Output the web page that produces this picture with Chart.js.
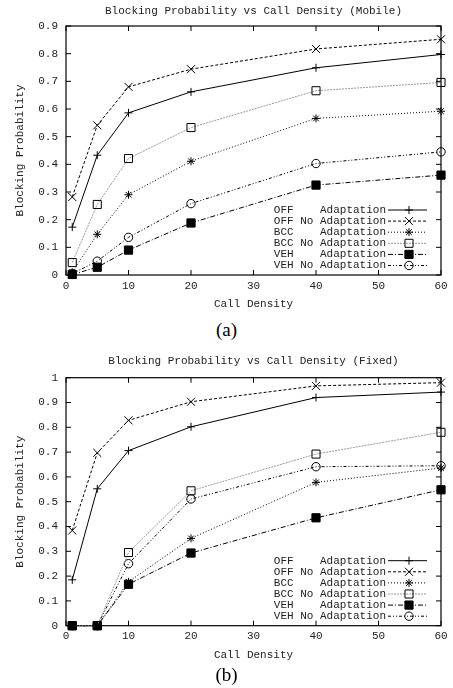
<!DOCTYPE html>
<html>
<head>
<meta charset="utf-8">
<script src="https://cdn.jsdelivr.net/npm/chart.js@4/dist/chart.umd.min.js"></script>
<style>
  body { margin: 0; background: #fff; width: 453px; height: 688px; position: relative; overflow: hidden; }
  .box { position: absolute; left: 0; width: 453px; height: 318px; }
  .cap { position: absolute; left: 0; width: 453px; text-align: center; line-height: 22px;
         font-family: "Liberation Serif", serif; font-size: 19px; color: #000; }
</style>
</head>
<body>
<div class="box" style="top:0"><canvas id="mobileChart" width="453" height="318"></canvas></div>
<div class="cap" style="top:319px">(a)</div>
<div class="box" style="top:350px"><canvas id="fixedChart" width="453" height="318"></canvas></div>
<div class="cap" style="top:664px">(b)</div>
<script>
"use strict";
// x positions (call density) shared by both plots
const callDensity = [1, 5, 10, 20, 40, 60];
const seriesLabels = ["OFF    Adaptation", "OFF No Adaptation", "BCC    Adaptation",
    "BCC No Adaptation", "VEH    Adaptation", "VEH No Adaptation"];
const xTicks = [0, 10, 20, 30, 40, 50, 60];
const mobileYTicks = [0, 0.1, 0.2, 0.3, 0.4, 0.5, 0.6, 0.7, 0.8, 0.9];
const fixedYTicks = [0, 0.1, 0.2, 0.3, 0.4, 0.5, 0.6, 0.7, 0.8, 0.9, 1];

// (a) Mobile
const mobileOffAdapt = [0.173, 0.433, 0.586, 0.662, 0.749, 0.797];
const mobileOffNoAdapt = [0.282, 0.541, 0.680, 0.744, 0.817, 0.852];
const mobileBccAdapt = [0.010, 0.147, 0.290, 0.411, 0.566, 0.592];
const mobileBccNoAdapt = [0.045, 0.255, 0.421, 0.533, 0.666, 0.696];
const mobileVehAdapt = [0.002, 0.028, 0.090, 0.188, 0.325, 0.361];
const mobileVehNoAdapt = [0.005, 0.050, 0.136, 0.258, 0.403, 0.445];

// (b) Fixed
const fixedOffAdapt = [0.185, 0.552, 0.706, 0.802, 0.920, 0.942];
const fixedOffNoAdapt = [0.384, 0.697, 0.828, 0.903, 0.967, 0.980];
const fixedBccAdapt = [0, 0, 0.177, 0.352, 0.578, 0.636];
const fixedBccNoAdapt = [0, 0, 0.295, 0.544, 0.692, 0.780];
const fixedVehAdapt = [0, 0, 0.167, 0.293, 0.435, 0.548];
const fixedVehNoAdapt = [0, 0, 0.250, 0.511, 0.641, 0.645];

const monoFont = { family: '"Liberation Mono", "DejaVu Sans Mono", monospace', size: 11 };
const textColor = '#222';

// gnuplot-ish line / point styles, one per series
const seriesStyles = [
    { color: '#000', dash: [], point: 'cross', radius: 4, fill: 'transparent' },
    { color: '#000', dash: [3, 2], point: 'crossRot', radius: 5.7, fill: 'transparent' },
    { color: '#000', dash: [1, 2], point: 'star', radius: 4, fill: 'transparent' },
    { color: '#999', dash: [2, 1], point: 'rect', radius: 5.7, fill: 'transparent' },
    { color: '#000', dash: [5, 2, 1, 2], point: 'rect', radius: 5.8, fill: '#000' },
    { color: '#000', dash: [3, 2, 1, 2, 1, 2], point: 'circle', radius: 4.2, fill: 'transparent' }
];

/**
 * Border box plus inward tick marks on all four sides, like gnuplot.
 */
const gnuplotFrame = {
    id: 'gnuplotFrame',
    beforeDatasetsDraw(chart) {
        const ctx = chart.ctx;
        const a = chart.chartArea;
        const xs = chart.scales.x;
        const ys = chart.scales.y;
        const len = 5;
        ctx.save();
        ctx.strokeStyle = '#000';
        ctx.lineWidth = 1;
        ctx.beginPath();
        xs.ticks.forEach(t => {
            const px = xs.getPixelForValue(t.value);
            ctx.moveTo(px, a.bottom); ctx.lineTo(px, a.bottom - len);
            ctx.moveTo(px, a.top); ctx.lineTo(px, a.top + len);
        });
        ys.ticks.forEach(t => {
            const py = ys.getPixelForValue(t.value);
            ctx.moveTo(a.left, py); ctx.lineTo(a.left + len, py);
            ctx.moveTo(a.right, py); ctx.lineTo(a.right - len, py);
        });
        ctx.stroke();
        ctx.lineWidth = 1.2;
        ctx.strokeRect(a.left, a.top, a.right - a.left, a.bottom - a.top);
        ctx.restore();
    }
};

/**
 * Key in the lower right corner: label text, then a line sample with its marker.
 */
const gnuplotKey = {
    id: 'gnuplotKey',
    afterDatasetsDraw(chart) {
        const ctx = chart.ctx;
        const a = chart.chartArea;
        const sets = chart.data.datasets;
        ctx.save();
        ctx.font = '11px "Liberation Mono", monospace';
        ctx.textAlign = 'right';
        ctx.textBaseline = 'middle';
        sets.forEach((ds, i) => {
            const y = a.bottom - 9.5 - (sets.length - 1 - i) * 11.1;
            ctx.fillStyle = textColor;
            ctx.fillText(ds.label, a.right - 55, y);
            ctx.strokeStyle = ds.borderColor;
            ctx.lineWidth = 1;
            ctx.setLineDash(ds.borderDash);
            ctx.beginPath();
            ctx.moveTo(a.right - 53, y);
            ctx.lineTo(a.right - 14, y);
            ctx.stroke();
            ctx.setLineDash([]);
            ctx.fillStyle = ds.pointBackgroundColor;
            ctx.strokeStyle = '#000';
            Chart.helpers.drawPoint(ctx, { pointStyle: ds.pointStyle, radius: ds.pointRadius, borderWidth: 1, rotation: 0 }, a.right - 32, y);
        });
        ctx.restore();
    }
};

function buildDatasets(seriesValues) {
    return seriesValues.map((vals, i) => {
        const st = seriesStyles[i];
        return {
            label: seriesLabels[i],
            data: callDensity.map((x, k) => ({ x: x, y: vals[k] })),
            borderColor: st.color,
            borderWidth: 1,
            borderDash: st.dash,
            pointStyle: st.point,
            pointRadius: st.radius,
            pointBackgroundColor: st.fill,
            pointBorderColor: '#000',
            pointBorderWidth: 1,
            tension: 0,
            fill: false,
            clip: false
        };
    });
}

function makeChart(canvasId, title, seriesValues, yTicks, pads) {
    const yMax = yTicks[yTicks.length - 1];
    return new Chart(document.getElementById(canvasId), {
        type: 'line',
        data: { datasets: buildDatasets(seriesValues) },
        options: {
            responsive: false,
            animation: false,
            devicePixelRatio: 1,
            layout: { padding: { left: 11.4, right: 12, top: 0, bottom: 0 } },
            plugins: {
                legend: { display: false },
                tooltip: { enabled: false },
                title: {
                    display: true,
                    fullSize: false,
                    text: title,
                    color: textColor,
                    font: Object.assign({ weight: 'normal' }, monoFont),
                    padding: { top: pads.titleTop, bottom: pads.titleBottom }
                }
            },
            scales: {
                x: {
                    type: 'linear',
                    min: 0,
                    max: 60,
                    afterBuildTicks: s => { s.ticks = xTicks.map(v => ({ value: v })); },
                    grid: { display: false, drawTicks: false },
                    border: { display: false },
                    ticks: { color: textColor, font: monoFont, padding: 4, maxRotation: 0 },
                    title: {
                        display: true, text: 'Call Density', color: textColor, font: monoFont,
                        padding: { top: pads.xTitleTop, bottom: pads.xTitleBottom }
                    }
                },
                y: {
                    min: 0,
                    max: yMax,
                    afterBuildTicks: s => { s.ticks = yTicks.map(v => ({ value: v })); },
                    grid: { display: false, drawTicks: false },
                    border: { display: false },
                    ticks: {
                        color: textColor, font: monoFont, padding: 8,
                        callback: v => String(Math.round(v * 10) / 10)
                    },
                    title: {
                        display: true, text: 'Blocking Probability', color: textColor, font: monoFont,
                        padding: { top: 2, bottom: 3.6 }
                    }
                }
            }
        },
        plugins: [gnuplotFrame, gnuplotKey]
    });
}

makeChart('mobileChart', 'Blocking Probability vs Call Density (Mobile)',
    [mobileOffAdapt, mobileOffNoAdapt, mobileBccAdapt, mobileBccNoAdapt, mobileVehAdapt, mobileVehNoAdapt],
    mobileYTicks, { titleTop: 4.1, titleBottom: 8.7, xTitleTop: 1.2, xTitleBottom: 7.4 });

makeChart('fixedChart', 'Blocking Probability vs Call Density (Fixed)',
    [fixedOffAdapt, fixedOffNoAdapt, fixedBccAdapt, fixedBccNoAdapt, fixedVehAdapt, fixedVehNoAdapt],
    fixedYTicks, { titleTop: 4.4, titleBottom: 10.1, xTitleTop: 1.5, xTitleBottom: 6.4 });
</script>
</body>
</html>
